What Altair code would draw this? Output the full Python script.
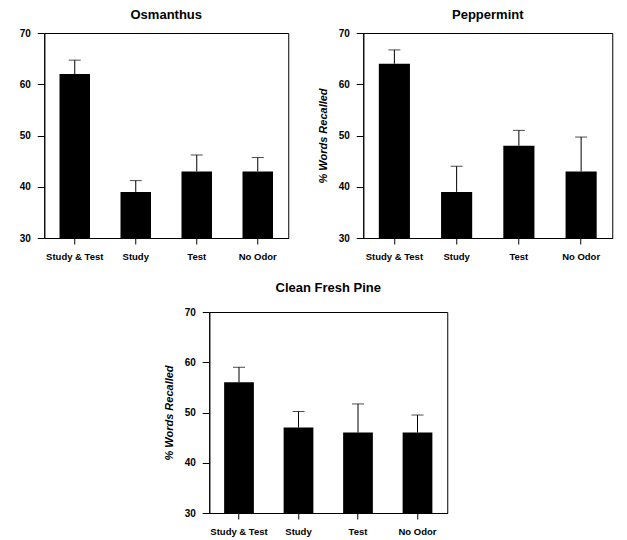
import altair as alt
import pandas as pd

conditions = ["Study & Test", "Study", "Test", "No Odor"]
osm_mean = [62, 39, 43, 43]
osm_upper = [64.7, 41.2, 46.2, 45.7]
pep_mean = [64, 39, 48, 43]
pep_upper = [66.7, 44, 51, 49.7]
pine_mean = [56, 47, 46, 46]
pine_upper = [59, 50.2, 51.7, 49.5]
y_ticks = [30, 35, 40, 45, 50, 55, 60, 65, 70]
y_base = 30
FONT = "Liberation Sans"


def panel(title, mean, upper, w, h, ytitle, toffset):
    df = pd.DataFrame({"cond": conditions, "mean": mean, "upper": upper})
    yaxis_kw = dict(
        values=y_ticks,
        labelExpr="datum.value % 10 == 0 ? datum.label : ''",
        tickSize={"condition": {"test": "datum.value % 10 == 0", "value": 7}, "value": 3},
        labelPadding=7,
        grid=False,
    )
    if ytitle:
        yaxis_kw.update(title=ytitle, titleFontStyle="italic", titleFontWeight="bold",
                        titleFontSize=11, titlePadding=10, titleFont=FONT, titleColor="black")
    else:
        yaxis_kw.update(title=None)
    x = alt.X("cond:N", sort=conditions,
              scale=alt.Scale(paddingInner=0.5, paddingOuter=0.25),
              axis=alt.Axis(title=None, labelAngle=0, tickSize=6, labelPadding=7, grid=False))
    y = alt.Y("mean:Q", scale=alt.Scale(domain=[30, 70], nice=False, zero=False),
              axis=alt.Axis(**yaxis_kw))
    base = alt.Chart(df)
    bars = base.mark_bar(color="black").encode(x=x, y=y, y2=alt.datum(y_base))
    rule = base.mark_rule(color="black", strokeWidth=1).encode(x=x, y="mean:Q", y2="upper:Q")
    cap = base.mark_tick(color="black", size=12, thickness=1).encode(x=x, y="upper:Q")
    return alt.layer(bars, rule, cap).properties(
        width=w, height=h,
        title=alt.TitleParams(title, offset=toffset, fontSize=13, font=FONT,
                              fontWeight="bold", color="black"),
    )


osm = panel("Osmanthus", osm_mean, osm_upper, 244, 205, None, 6)
pep = panel("Peppermint", pep_mean, pep_upper, 249, 205, "% Words Recalled", 6)
pine = panel("Clean Fresh Pine", pine_mean, pine_upper, 238, 201, "% Words Recalled", 12)

top = alt.hconcat(osm, pep, spacing=27)
chart = alt.vconcat(top, pine, spacing=20, center=True).properties(
    padding={"left": 10, "top": 0, "right": 2, "bottom": 2}
).configure_view(
    stroke="black", strokeWidth=1
).configure_axis(
    labelFont=FONT, labelFontWeight="bold", labelColor="black",
    tickColor="black", domainColor="black", domainWidth=1, tickWidth=1
).configure_axisX(
    labelFontSize=9.5
).configure_axisY(
    labelFontSize=10
)

chart.save("out.html", embed_options={"renderer": "svg", "actions": False})
